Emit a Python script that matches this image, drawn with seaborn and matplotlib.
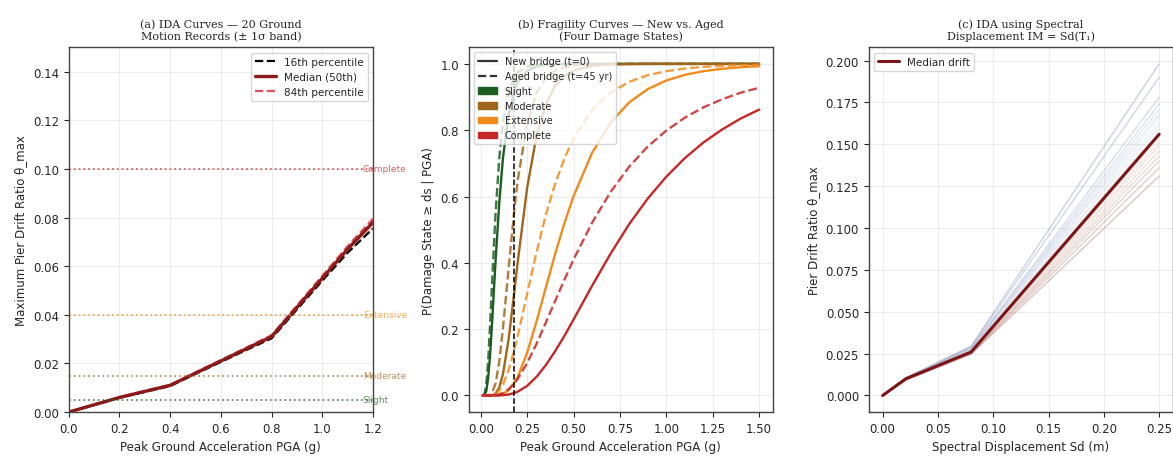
import matplotlib
matplotlib.use("Agg")
import matplotlib.pyplot as plt
import matplotlib.lines as mlines
import matplotlib.patches as mpatches
import seaborn as sns

# ---- (a) IDA percentiles vs PGA ----
pga_ida = [0.0, 0.1, 0.2, 0.3, 0.4, 0.5, 0.6, 0.7, 0.8, 0.9, 1.0, 1.1, 1.2]
drift_p16 = [0.0, 0.0029, 0.0059, 0.0083, 0.0107, 0.0157, 0.0206, 0.0255, 0.0303, 0.0422, 0.0540, 0.0655, 0.0755]
drift_p50 = [0.0, 0.0030, 0.0060, 0.0085, 0.0110, 0.0160, 0.0210, 0.0260, 0.0310, 0.0430, 0.0550, 0.0670, 0.0780]
drift_p84 = [0.0, 0.0031, 0.0061, 0.0087, 0.0112, 0.0163, 0.0214, 0.0265, 0.0316, 0.0438, 0.0560, 0.0682, 0.0795]

ds_names = ["Slight", "Moderate", "Extensive", "Complete"]
ds_limits = [0.005, 0.015, 0.04, 0.10]
ds_colors = ["#1b5e20", "#a0661c", "#f08c1e", "#c62828"]

# ---- (b) fragility curves ----
pga_frag = [0.01, 0.02, 0.03, 0.04, 0.05, 0.06, 0.08, 0.10, 0.12, 0.15, 0.18, 0.20, 0.25, 0.30,
            0.35, 0.40, 0.45, 0.50, 0.60, 0.70, 0.80, 0.90, 1.00, 1.10, 1.20, 1.30, 1.40, 1.50]
frag_slight_new = [0.0, 0.0013, 0.014, 0.053, 0.119, 0.209, 0.407, 0.583, 0.718, 0.846, 0.917, 0.945, 0.979, 0.992,
                   0.997, 0.9986, 0.9994, 0.9997, 1.0, 1.0, 1.0, 1.0, 1.0, 1.0, 1.0, 1.0, 1.0, 1.0]
frag_slight_aged = [0.0, 0.0041, 0.033, 0.104, 0.209, 0.328, 0.551, 0.717, 0.826, 0.917, 0.960, 0.975, 0.992, 0.997,
                    0.999, 0.9996, 1.0, 1.0, 1.0, 1.0, 1.0, 1.0, 1.0, 1.0, 1.0, 1.0, 1.0, 1.0]
frag_moderate_new = [0.0, 0.0, 0.0, 0.0, 0.0001, 0.0006, 0.0057, 0.024, 0.065, 0.169, 0.308, 0.406, 0.626, 0.781,
                     0.877, 0.933, 0.963, 0.980, 0.994, 0.998, 0.9994, 1.0, 1.0, 1.0, 1.0, 1.0, 1.0, 1.0]
frag_moderate_aged = [0.0, 0.0, 0.0, 0.0003, 0.0018, 0.0066, 0.036, 0.103, 0.204, 0.383, 0.554, 0.651, 0.821, 0.912,
                      0.957, 0.979, 0.990, 0.995, 0.9987, 0.9997, 1.0, 1.0, 1.0, 1.0, 1.0, 1.0, 1.0, 1.0]
frag_extensive_new = [0.0, 0.0, 0.0, 0.0, 0.0, 0.0, 0.0003, 0.0015, 0.0047, 0.016, 0.037, 0.057, 0.129, 0.222,
                      0.324, 0.425, 0.518, 0.601, 0.732, 0.823, 0.884, 0.924, 0.950, 0.967, 0.978, 0.985, 0.990, 0.993]
frag_extensive_aged = [0.0, 0.0, 0.0, 0.0, 0.0003, 0.001, 0.005, 0.015, 0.033, 0.076, 0.136, 0.181, 0.307, 0.431,
                       0.543, 0.637, 0.714, 0.775, 0.861, 0.914, 0.946, 0.966, 0.978, 0.986, 0.991, 0.994, 0.996, 0.997]
frag_complete_new = [0.0, 0.0, 0.0, 0.0, 0.0, 0.0, 0.0, 0.0003, 0.0009, 0.003, 0.0072, 0.0117, 0.029, 0.056,
                     0.091, 0.133, 0.179, 0.229, 0.331, 0.428, 0.517, 0.594, 0.660, 0.716, 0.763, 0.802, 0.835, 0.862]
frag_complete_aged = [0.0, 0.0, 0.0, 0.0, 0.0, 0.0, 0.0011, 0.0035, 0.0078, 0.019, 0.036, 0.051, 0.098, 0.155,
                      0.219, 0.284, 0.348, 0.410, 0.521, 0.614, 0.690, 0.751, 0.799, 0.838, 0.869, 0.893, 0.913, 0.928]
pga_marker = 0.18

# ---- (c) IDA with Sd ----
sd_grid = [0.0, 0.021, 0.08, 0.25]
median_sd_drift = [0.0, 0.010, 0.026, 0.156]
rec_drift_02 = [0.0106, 0.0105, 0.0104, 0.0103, 0.0102, 0.0101, 0.0100, 0.0100, 0.0099, 0.0099,
                0.0098, 0.0098, 0.0097, 0.0097, 0.0096, 0.0096, 0.0095, 0.0094, 0.0093, 0.0092]
rec_drift_08 = [0.0295, 0.0290, 0.0285, 0.0282, 0.0280, 0.0277, 0.0275, 0.0272, 0.0270, 0.0268,
                0.0265, 0.0263, 0.0261, 0.0259, 0.0257, 0.0255, 0.0253, 0.0251, 0.0249, 0.0246]
rec_drift_25 = [0.198, 0.190, 0.178, 0.174, 0.171, 0.168, 0.166, 0.163, 0.161, 0.159,
                0.157, 0.155, 0.153, 0.151, 0.149, 0.146, 0.143, 0.140, 0.136, 0.131]

sns.set_style("ticks")
plt.rcParams["font.family"] = ["DejaVu Sans"]
plt.rcParams["xtick.labelsize"] = 8.5
plt.rcParams["ytick.labelsize"] = 8.5
plt.rcParams["axes.labelsize"] = 8.5
plt.rcParams["axes.edgecolor"] = "#444444"

fig, axes = plt.subplots(1, 3, figsize=(11.73, 4.6), dpi=100)
fig.subplots_adjust(left=0.0586, right=1.0, bottom=0.102, top=0.895, wspace=0.315)
title_font = dict(family="DejaVu Serif", fontsize=8)

# (a)
ax = axes[0]
ax.fill_between(pga_ida, drift_p16, drift_p84, color="#c62828", alpha=0.15, lw=0)
sns.lineplot(x=pga_ida, y=drift_p16, ax=ax, color="black", lw=1.6, ls="--", label="16th percentile")
sns.lineplot(x=pga_ida, y=drift_p84, ax=ax, color="#e0505a", lw=1.6, ls="--", label="84th percentile")
sns.lineplot(x=pga_ida, y=drift_p50, ax=ax, color="#8b1a1a", lw=2.4, label="Median (50th)")
for name, lim, col in zip(ds_names, ds_limits, ds_colors):
    ax.axhline(lim, color=col, ls=":", lw=1.3, alpha=0.7)
    ax.text(1.16, lim, name, color=col, alpha=0.7, fontsize=6.5, va="center", ha="left")
ax.set_xlim(0, 1.2)
ax.set_ylim(0, 0.15)
ax.set_xlabel("Peak Ground Acceleration PGA (g)")
ax.set_ylabel("Maximum Pier Drift Ratio θ_max")
ax.set_title("(a) IDA Curves — 20 Ground\nMotion Records (± 1σ band)", **title_font)
h, l = ax.get_legend_handles_labels()
order = [0, 2, 1]
ax.legend([h[i] for i in order], [l[i] for i in order], loc="upper right", fontsize=7.5)

# (b)
ax = axes[1]
frag_new = [frag_slight_new, frag_moderate_new, frag_extensive_new, frag_complete_new]
frag_aged = [frag_slight_aged, frag_moderate_aged, frag_extensive_aged, frag_complete_aged]
for col, p_new, p_aged in zip(ds_colors, frag_new, frag_aged):
    sns.lineplot(x=pga_frag, y=p_new, ax=ax, color=col, lw=1.7)
    sns.lineplot(x=pga_frag, y=p_aged, ax=ax, color=col, lw=1.7, ls="--", alpha=0.85)
ax.axvline(pga_marker, color="black", ls="--", lw=1.1)
handles = [mlines.Line2D([], [], color="#333333", lw=1.6, label="New bridge (t=0)"),
           mlines.Line2D([], [], color="#333333", lw=1.6, ls="--", label="Aged bridge (t=45 yr)")]
handles += [mpatches.Patch(color=c, label=n) for n, c in zip(ds_names, ds_colors)]
ax.legend(handles=handles, loc="upper left", fontsize=7)
ax.set_xlabel("Peak Ground Acceleration PGA (g)")
ax.set_ylabel("P(Damage State ≥ ds | PGA)")
ax.set_title("(b) Fragility Curves — New vs. Aged\n(Four Damage States)", **title_font)

# (c)
ax = axes[2]
rec_colors = sns.color_palette("coolwarm", len(rec_drift_25), desat=0.4)
for i in range(len(rec_drift_25)):
    sns.lineplot(x=sd_grid, y=[0.0, rec_drift_02[i], rec_drift_08[i], rec_drift_25[i]],
                 ax=ax, color=rec_colors[i], lw=1.0, alpha=0.35)
sns.lineplot(x=sd_grid, y=median_sd_drift, ax=ax, color="#7b1518", lw=2.2, label="Median drift")
ax.set_xlabel("Spectral Displacement Sd (m)")
ax.set_ylabel("Pier Drift Ratio θ_max")
ax.set_title("(c) IDA using Spectral\nDisplacement IM = Sd(T₁)", **title_font)
ax.legend(loc="upper left", fontsize=7.5)

for ax in axes:
    ax.grid(True, color="#dddddd", lw=0.6, alpha=0.7)
    for s in ax.spines.values():
        s.set_visible(True)
        s.set_linewidth(1.0)

fig.savefig("out.png", dpi=100)
